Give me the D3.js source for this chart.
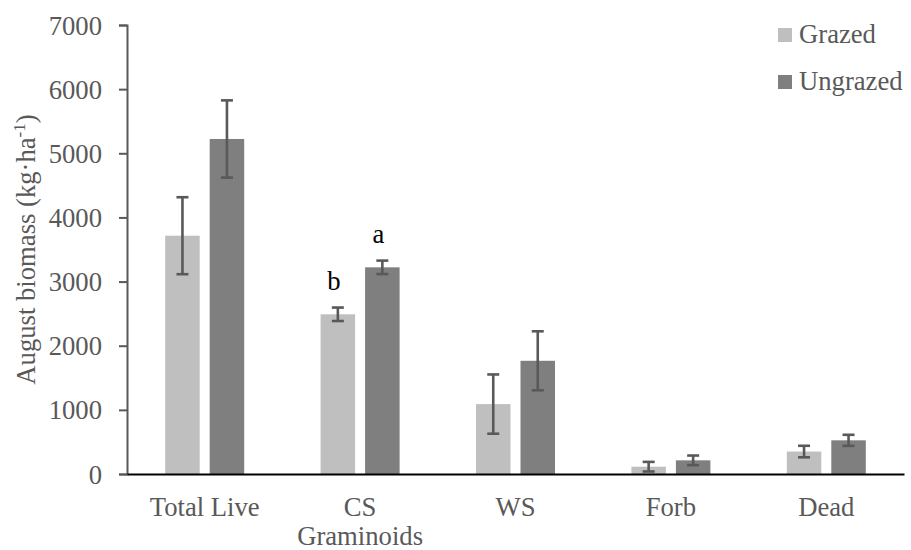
<!DOCTYPE html>
<html>
<head>
<meta charset="utf-8">
<script src="https://cdn.jsdelivr.net/npm/d3@7"></script>
<style>
  html, body { margin: 0; padding: 0; background: #fff; }
  svg { display: block; font-family: "Liberation Serif", "Times New Roman", serif; }
</style>
</head>
<body>
<svg id="chart" width="911" height="550"></svg>
<script>
const categories = ["Total Live", "CS\nGraminoids", "WS", "Forb", "Dead"];
const seriesNames = ["Grazed", "Ungrazed"];
const grazed = [3715, 2490, 1090, 114, 350];
const ungrazed = [5223, 3222, 1765, 213, 525];
const grazedErr = [600, 105, 462, 75, 90];
const ungrazedErr = [602, 105, 460, 75, 86];
const letters = [
  { cat: 1, series: "Grazed", text: "b" },
  { cat: 1, series: "Ungrazed", text: "a" }
];
const yTicks = [0, 1000, 2000, 3000, 4000, 5000, 6000, 7000];
const colors = { Grazed: "#bfbfbf", Ungrazed: "#7f7f7f" };

const svg = d3.select("#chart");
const mLeft = 127, mRight = 904, mTop = 25, mBottom = 474;

const x = d3.scaleBand().domain(categories).range([mLeft, mRight]).padding(0);
const y = d3.scaleLinear().domain([0, 7000]).range([mBottom, mTop]);
const groupW = 79;
const xs = d3.scaleBand().domain(seriesNames).range([-groupW / 2, groupW / 2]).paddingInner(10 / 44.5);

const rows = categories.map((c, i) => ({
  cat: c,
  vals: [
    { s: "Grazed", v: grazed[i], e: grazedErr[i] },
    { s: "Ungrazed", v: ungrazed[i], e: ungrazedErr[i] }
  ]
}));

// y axis
const yAxis = d3.axisLeft(y).tickValues(yTicks).tickSize(8).tickPadding(17).tickFormat(d3.format("d"));
const ya = svg.append("g").attr("transform", `translate(${mLeft},0)`).call(yAxis);
ya.select(".domain").attr("stroke", "#595959").attr("stroke-width", 2);
ya.selectAll(".tick line").attr("stroke", "#595959").attr("stroke-width", 2);
ya.selectAll(".tick text").attr("fill", "#595959").attr("font-size", "26.67px")
  .attr("font-family", "Liberation Serif, serif").attr("dy", "0.34em");

// bars
const g = svg.append("g");
const groups = g.selectAll("g.grp").data(rows).join("g")
  .attr("class", "grp")
  .attr("transform", d => `translate(${x(d.cat) + x.bandwidth() / 2},0)`);
groups.selectAll("rect").data(d => d.vals).join("rect")
  .attr("x", d => xs(d.s))
  .attr("width", xs.bandwidth())
  .attr("y", d => y(d.v))
  .attr("height", d => y(0) - y(d.v))
  .attr("fill", d => colors[d.s]);

// error bars
const eb = groups.selectAll("g.err").data(d => d.vals).join("g")
  .attr("class", "err")
  .attr("transform", d => `translate(${xs(d.s) + xs.bandwidth() / 2},0)`)
  .attr("stroke", "#595959").attr("stroke-width", 2.6);
eb.append("line").attr("x1", 0).attr("x2", 0)
  .attr("y1", d => y(d.v + d.e)).attr("y2", d => y(Math.max(0, d.v - d.e)));
eb.append("line").attr("x1", -6).attr("x2", 6)
  .attr("y1", d => y(d.v + d.e)).attr("y2", d => y(d.v + d.e));
eb.append("line").attr("x1", -6).attr("x2", 6)
  .attr("y1", d => y(Math.max(0, d.v - d.e))).attr("y2", d => y(Math.max(0, d.v - d.e)));

// x axis line
const xAxis = d3.axisBottom(x).tickSize(0).tickFormat("");
const xa = svg.append("g").attr("transform", `translate(0,${mBottom})`).call(xAxis);
xa.select(".domain").attr("stroke", "#000").attr("stroke-width", 2);

// category labels
categories.forEach(c => {
  const lines = c.split("\n");
  const t = svg.append("text")
    .attr("x", x(c) + x.bandwidth() / 2)
    .attr("y", 516)
    .attr("text-anchor", "middle")
    .attr("fill", "#595959")
    .attr("font-size", "26.67px");
  lines.forEach((ln, i) => {
    t.append("tspan").attr("x", x(c) + x.bandwidth() / 2).attr("dy", i === 0 ? 0 : 29).text(ln);
  });
});

// significance letters
letters.forEach(l => {
  const i = l.cat;
  const v = l.series === "Grazed" ? grazed[i] + grazedErr[i] : ungrazed[i] + ungrazedErr[i];
  svg.append("text")
    .attr("x", x(categories[i]) + x.bandwidth() / 2 + xs(l.series) + xs.bandwidth() / 2 - 4)
    .attr("y", y(v) - 18)
    .attr("text-anchor", "middle")
    .attr("fill", "#000")
    .attr("font-size", "26.67px")
    .text(l.text);
});

// y axis title
const yt = svg.append("text")
  .attr("transform", `translate(35,${(mTop + mBottom) / 2}) rotate(-90)`)
  .attr("text-anchor", "middle")
  .attr("fill", "#595959")
  .attr("font-size", "26.67px");
yt.append("tspan").text("August biomass (kg·ha");
yt.append("tspan").attr("dy", -10).attr("font-size", "17px").text("-1");
yt.append("tspan").attr("dy", 10).text(")");

// legend
const leg = svg.append("g");
seriesNames.forEach((s, i) => {
  const yy = 28 + i * 47;
  leg.append("rect").attr("x", 778).attr("y", yy).attr("width", 14).attr("height", 14).attr("fill", colors[s]);
  leg.append("text").attr("x", 799).attr("y", yy + 15).attr("fill", "#595959")
    .attr("font-size", "26.67px").text(s);
});
</script>
</body>
</html>
